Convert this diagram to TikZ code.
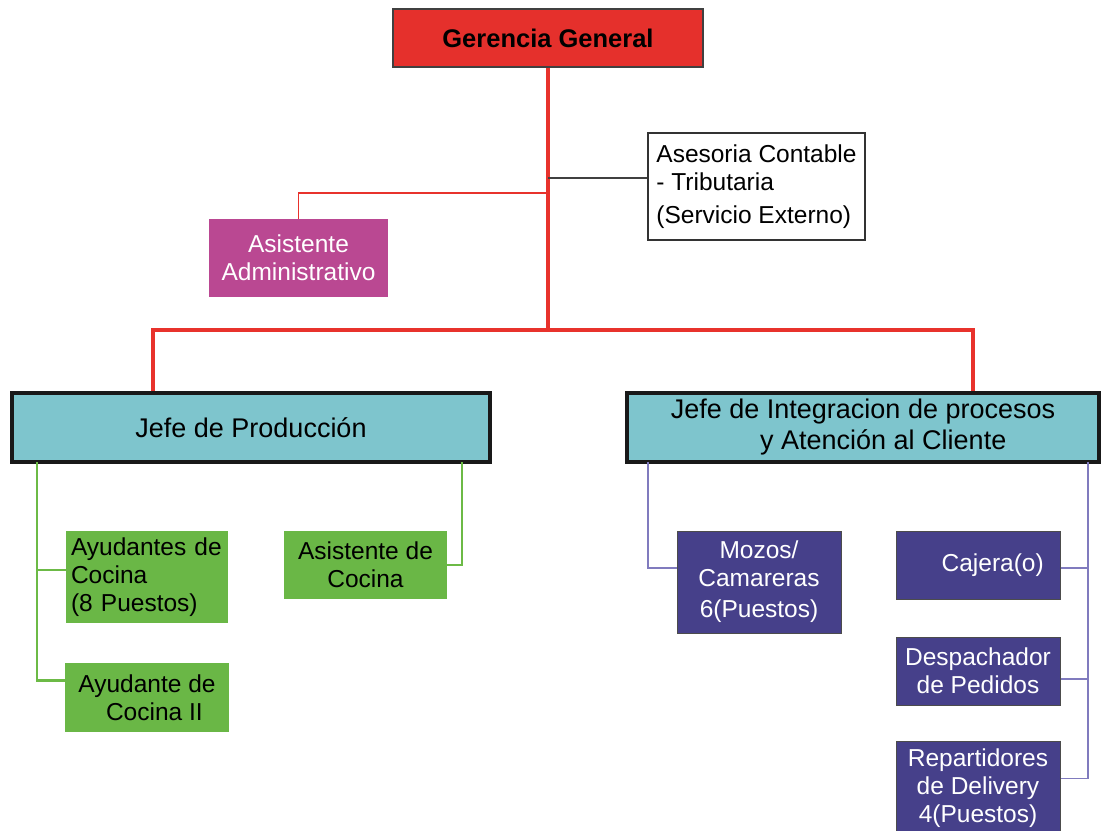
\documentclass[tikz,border=0pt]{standalone}
\usepackage{fontspec}
\setmainfont{Liberation Sans}
\usepackage{xcolor}

\definecolor{gerRed}{RGB}{229,48,44}
\definecolor{lineRed}{RGB}{232,50,44}
\definecolor{asiMag}{RGB}{186,72,146}
\definecolor{jefCyan}{RGB}{126,197,205}
\definecolor{cocGreen}{RGB}{106,183,70}
\definecolor{lineGreen}{RGB}{108,186,70}
\definecolor{salBlue}{RGB}{70,64,138}
\definecolor{lineBlue}{RGB}{128,123,190}

\newcommand{\bodyfont}{\fontsize{24.5}{28}\selectfont}
\newcommand{\jefefont}{\fontsize{27}{31}\selectfont}

\tikzset{
  orgbox/.style={inner sep=0pt, align=center, font=\bodyfont},
  redbus/.style={draw=lineRed, line width=4pt},
  greenbus/.style={draw=lineGreen, line width=2.5pt},
  bluebus/.style={draw=lineBlue, line width=1.5pt},
}

\begin{document}
\begin{tikzpicture}[x=1pt,y=1pt,yscale=-1,xscale=1]
        \useasboundingbox (0,0) rectangle (1102,830);

        % Gerencia
        \node (gg) [orgbox, fill=gerRed, draw=black!75, line width=1.5pt, minimum width=310, minimum height=58, font=\fontsize{25.5}{30}\selectfont\bfseries] at (548,38) {Gerencia General};
        % Asesoria externa
        \node (ase) [orgbox, fill=white, draw=black!80, line width=1.2pt, minimum width=217, minimum height=107, align=left] at (756.5,186.5) {Asesoria Contable\\- Tributaria\\[5pt](Servicio Externo)};
        % Asistente administrativo
        \node (aa) [orgbox, fill=asiMag, text=white, minimum width=179, minimum height=78] at (298.5,258) {Asistente\\Administrativo};

        % Jefes
        \node (jp) [orgbox, fill=jefCyan, draw=black!90, line width=3.5pt, minimum width=478, minimum height=69, font=\jefefont] at (251,427.5) {Jefe de Producción};
        \node (ji) [orgbox, fill=jefCyan, draw=black!90, line width=3.5pt, minimum width=472, minimum height=69, font=\jefefont] at (863,427.5) {Jefe de Integracion de procesos\\\hspace*{1.5em}y Atención al Cliente};

        % Cocina
        \node (ac1) [orgbox, fill=cocGreen, minimum width=162, minimum height=92, text width=152, align=left] at (147,577) {Ayudantes de\\Cocina\\(8 Puestos)};
        \node (ac2) [orgbox, fill=cocGreen, minimum width=164, minimum height=69] at (147,697.5) {Ayudante de\\\hspace*{0.6em}Cocina II};
        \node (asc) [orgbox, fill=cocGreen, minimum width=163, minimum height=68] at (365.5,565) {Asistente de\\Cocina};

        % Salon y despacho
        \node (moz) [orgbox, fill=salBlue, draw=black!70, line width=1pt, text=white, minimum width=164, minimum height=102] at (759,582) {Mozos/\\Camareras\\[3pt]6(Puestos)};
        \node (caj) [orgbox, fill=salBlue, draw=black!70, line width=1pt, text=white, minimum width=164, minimum height=68] at (978,565) {\hspace*{1.2em}Cajera(o)};
        \node (des) [orgbox, fill=salBlue, draw=black!70, line width=1pt, text=white, minimum width=164, minimum height=68] at (978,671) {Despachador\\de Pedidos};
        \node (rep) [orgbox, fill=salBlue, draw=black!70, line width=1pt, text=white, minimum width=164, minimum height=95] at (978,788.5) {Repartidores\\de Delivery\\4(Puestos)};

        % Red trunk
        \coordinate (busL) at (153,330);
        \coordinate (busR) at (973,330);
        \coordinate (aseT) at (548,178);
        \coordinate (aaT) at (548,193);
        \draw [redbus] (gg.south) -- (gg.south |- busL);
        \draw [redbus] (busL |- jp.north) -- (busL) -- (busR) -- (busR |- ji.north);
        \draw [draw=black!75, line width=1.5pt] (aseT) -- (aseT -| ase.west);
        \draw [draw=lineRed, line width=1.5pt] (aaT) -| (aa.north);

        % Green lines
        \coordinate (gL) at (37,462);
        \coordinate (gR) at (462,462);
        \draw [greenbus] (gL) |- ([yshift=-17]ac2.west);
        \draw [greenbus] ([yshift=-7]ac1.west) -- ([yshift=-7]ac1.west -| gL);
        \draw [greenbus] (asc.east) -| (gR);

        % Blue lines
        \coordinate (bL) at (648,462);
        \coordinate (bR) at (1088,462);
        \draw [bluebus] (bL) |- ([yshift=-14]moz.west);
        \draw [bluebus] (bR) |- ([yshift=-10]rep.east);
        \draw [bluebus] ([yshift=3]caj.east) -- ([yshift=3]caj.east -| bR);
        \draw [bluebus] ([yshift=8]des.east) -- ([yshift=8]des.east -| bR);

\end{tikzpicture}
\end{document}
